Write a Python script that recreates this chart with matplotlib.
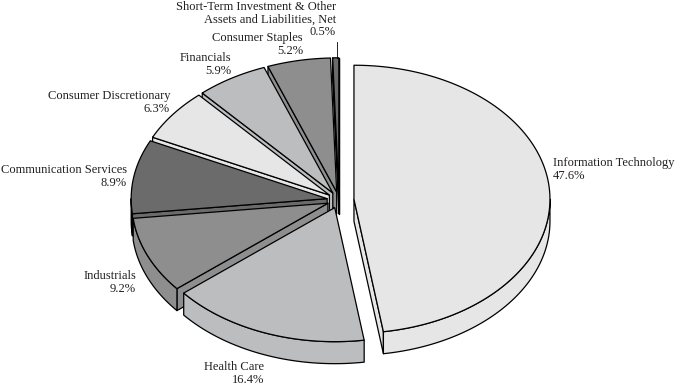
import numpy as np
import matplotlib
matplotlib.use("Agg")
import matplotlib.pyplot as plt
from matplotlib.patches import Polygon

# portfolio breakdown, clockwise from 12 o'clock
sectors = ["Information Technology", "Health Care", "Industrials",
           "Communication Services", "Consumer Discretionary", "Financials",
           "Consumer Staples",
           "Short-Term Investment & Other\nAssets and Liabilities, Net"]
shares = [47.6, 16.4, 9.2, 8.9, 6.3, 5.9, 5.2, 0.5]
colors = ["#e6e6e7", "#bcbdbf", "#8e8e8e", "#6b6b6b",
          "#e6e6e7", "#bcbdbf", "#8e8e8e", "#6b6b6b"]
explode = [15, 12, 12, 12, 12, 12, 12, 12]

# label anchors: x, y of first line (pixels), alignment
label_pos = [(553, 163, "left"), (264, 367, "right"), (136, 276, "right"),
             (127, 170, "right"), (170, 96, "right"), (231, 58, "right"),
             (303, 38, "right"), (336, 7, "right")]
LINE_STEP = 12.6

W, H = 675, 386
CX, CY = 339, 200
RX, RY = 196, 134
DEPTH = 22
LW = 0.9


def rim(cx, cy, t):
    t = np.radians(t)
    return cx + RX * np.cos(t), cy - RY * np.sin(t)


fig = plt.figure(figsize=(W / 100, H / 100), dpi=100)
ax = fig.add_axes([0, 0, 1, 1])
ax.set_xlim(0, W)
ax.set_ylim(H, 0)
ax.axis("off")

tot = sum(shares)
walls = []
tops = []
cum = 0.0
for i, s in enumerate(shares):
    a2 = 90 - cum / tot * 360
    a1 = a2 - s / tot * 360
    cum += s
    m = np.radians((a1 + a2) / 2)
    px = CX + explode[i] * np.cos(m)
    py = CY - explode[i] * RY / RX * np.sin(m)

    t = np.linspace(a1, a2, 120)
    xs, ys = rim(px, py, t)
    tops.append((np.column_stack([np.r_[px, xs], np.r_[py, ys]]), colors[i]))

    # outer wall, front half only
    for k in (-1, 0, 1):
        lo, hi = max(a1, -180 + 360 * k), min(a2, 360 * k)
        if hi > lo:
            tt = np.linspace(lo, hi, 100)
            wx, wy = rim(px, py, tt)
            poly = np.column_stack([np.r_[wx, wx[::-1]],
                                    np.r_[wy, wy[::-1] + DEPTH]])
            walls.append((poly[:, 1].mean(), poly, colors[i]))

    # cut faces facing the viewer
    for a, vis in ((a1, np.cos(np.radians(a1)) > 0),
                   (a2, np.cos(np.radians(a2)) < 0)):
        if vis:
            ex, ey = rim(px, py, a)
            poly = np.array([[px, py], [ex, ey], [ex, ey + DEPTH],
                             [px, py + DEPTH]])
            walls.append((poly[:, 1].mean(), poly, colors[i]))

for _, poly, c in sorted(walls, key=lambda w: w[0]):
    ax.add_patch(Polygon(poly, closed=True, facecolor=c, edgecolor="black",
                         linewidth=LW, joinstyle="round"))
for poly, c in tops:
    ax.add_patch(Polygon(poly, closed=True, facecolor=c, edgecolor="black",
                         linewidth=LW, joinstyle="round"))

# one text per line so the stacked labels near the top stay apart
for i, (name, s) in enumerate(zip(sectors, shares)):
    x, y, ha = label_pos[i]
    lines = name.split("\n") + [f"{s:.1f}%"]
    for j, ln in enumerate(lines):
        ax.text(x, y + j * LINE_STEP, ln, ha=ha, va="center", fontsize=9,
                family="Liberation Serif", color="#231f20")

# leader for the tiny slice
ax.plot([337, 337], [42, 58], color="black", linewidth=0.6)

fig.savefig("out.png", dpi=100)
